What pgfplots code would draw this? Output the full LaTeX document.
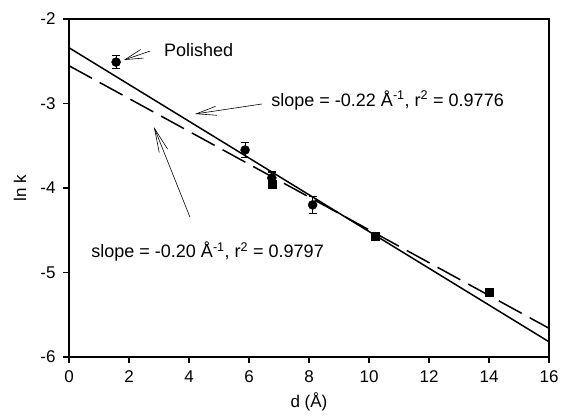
\documentclass[border=0pt]{standalone}
\usepackage{pgfplots}
\pgfplotsset{compat=1.18}
\usepackage{pgfplotstable}
\usepackage{fontspec}
\setmainfont{Liberation Sans}
\usetikzlibrary{arrows.meta}

% circles: d, ln k, error
\pgfplotstableread{
x     y      e
1.57  -2.51  0.08
5.87  -3.55  0.09
6.76  -3.88  0.07
8.12  -4.20  0.10
}\circdata
% squares
\pgfplotstableread{
x     y      e
6.76  -3.95  0.03
10.2  -4.57  0.02
14.0  -5.23  0.02
}\sqdata

\begin{document}
\begin{tikzpicture}[x=1pt,y=1pt]
\useasboundingbox (-69,-61) rectangle (492,357);
\begin{axis}[
    at={(0,0)}, anchor=south west,
    scale only axis,
    width=480pt, height=338pt,
    xmin=0, xmax=16, ymin=-6, ymax=-2,
    xtick={0,2,...,16},
    xticklabels={0,2,4,6,8,10,12,14,16},
    ytick={-6,-5,-4,-3,-2},
    yticklabels={-6,-5,-4,-3,-2},
    tick pos=left,
    tick align=outside,
    major tick length=6pt,
    tick style={line width=1.3pt, black},
    axis line style={line width=1.5pt},
    tick label style={font=\fontsize{17}{20}\selectfont},
    xticklabel style={yshift=-4pt},
    yticklabel style={xshift=-4pt},
    label style={font=\fontsize{17}{20}\selectfont},
    xlabel={d (Å)},
    ylabel={ln k},
    xlabel style={at={(axis description cs:0.5,-0.133)}, anchor=center},
    ylabel style={at={(axis description cs:-0.102,0.5)}, anchor=center},
    clip=false,
]
\addplot[black, line width=1.5pt] coordinates {(0,-2.34) (16,-5.82)};
\addplot[black, line width=1.5pt, dash pattern=on 26pt off 9pt] coordinates {(0,-2.553) (16,-5.66)};
\addplot[only marks, mark=*, mark size=4.5pt, black,
    error bars/.cd, y dir=both, y explicit,
    error bar style={line width=1.2pt},
    error mark options={rotate=90, line width=1.2pt, mark size=4pt}]
    table[x=x, y=y, y error=e] {\circdata};
\addplot[only marks, mark=square*, mark size=4pt, black,
    error bars/.cd, y dir=both, y explicit,
    error bar style={line width=1.2pt},
    error mark options={rotate=90, line width=1.2pt, mark size=4pt}]
    table[x=x, y=y, y error=e] {\sqdata};

\node[anchor=west, font=\fontsize{18}{21}\selectfont] at (axis cs:3.05,-2.37) {Polished};
\node[anchor=west, font=\fontsize{18}{21}\selectfont] at (axis cs:6.63,-2.96)
    {slope = -0.22 Å\textsuperscript{-1}, r\textsuperscript{2} = 0.9776};
\node[anchor=west, font=\fontsize{18}{21}\selectfont] at (axis cs:0.63,-4.757)
    {slope = -0.20 Å\textsuperscript{-1}, r\textsuperscript{2} = 0.9797};

\draw[line width=0.6pt, -{Straight Barb[length=18pt,width=9pt]}] (axis cs:2.7,-2.38) -- (axis cs:1.83,-2.485);
\draw[line width=0.6pt, -{Straight Barb[length=20pt,width=9pt]}] (axis cs:6.43,-3.006) -- (axis cs:4.2,-3.124);
\draw[line width=0.6pt, -{Straight Barb[length=24pt,width=9pt]}] (axis cs:4.03,-4.343) -- (axis cs:2.83,-3.278);
\end{axis}
\end{tikzpicture}
\end{document}
